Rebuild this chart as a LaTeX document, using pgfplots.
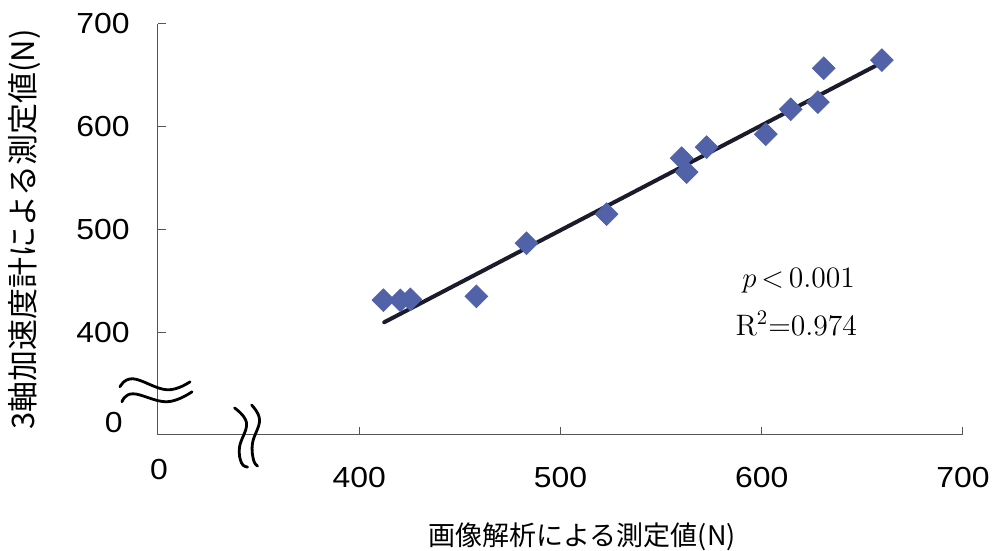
\documentclass[border=0pt]{standalone}
\usepackage{fontspec}
\usepackage{pgfplots}
\pgfplotsset{compat=1.18}

\newfontfamily\jpfont{Noto Sans CJK JP}
\newfontfamily\numfont[FakeStretch=1.1]{Liberation Sans}
\newcommand{\ticks}{\numfont\fontsize{14.5}{17}\selectfont}
\newcommand{\xlabs}{\jpfont\fontsize{13.5}{16}\selectfont}
\newcommand{\ylabs}{\jpfont\fontsize{15.5}{18}\selectfont}

\definecolor{markblue}{HTML}{5262A8}
\definecolor{fitline}{HTML}{1B1B2C}
\definecolor{axisgray}{HTML}{555555}

\begin{document}
\begin{tikzpicture}
\begin{axis}[
  scale only axis,
  width=402.5pt, height=205.5pt,
  xmin=300, xmax=700, ymin=300, ymax=700,
  axis x line*=bottom, axis y line*=left,
  axis line style={draw=axisgray, line width=0.5pt},
  xtick={400,500,600,700}, ytick={400,500,600,700},
  tick align=inside, major tick length=4pt,
  tick style={draw=axisgray, line width=0.5pt},
  /pgf/number format/assume math mode=true,
  xticklabel style={font=\ticks, anchor=north, inner sep=0pt, yshift=-16pt},
  yticklabel style={font=\ticks, anchor=east, inner sep=0pt, xshift=-14pt},
  clip=false,
]
% measured pairs: image analysis (x) vs. tri-axial accelerometer (y)
\addplot[only marks, mark=square*, mark size=4pt,
  mark options={rotate=45, fill=markblue, draw=markblue}] table {
x     y
412.0 431.2
420.4 431.0
425.4 432.0
458.2 435.0
483.1 486.7
522.9 514.9
560.2 569.4
562.7 555.8
572.6 580.1
602.0 592.8
614.4 617.1
627.9 624.0
630.8 657.0
659.7 664.8
};
% regression line
\addplot[line width=2pt, color=fitline, line cap=round] coordinates {(412.4,409.7) (659.2,662.0)};

\node[anchor=base east, inner sep=0pt, font=\fontsize{14.8}{17}\selectfont] at (axis cs:646.5,444) {$p$\,<\,0.001};
\node[anchor=base east, inner sep=0pt, font=\fontsize{14.8}{17}\selectfont] at (axis cs:647.5,397.3) {R\textsuperscript{2}=0.974};

% zero labels at the broken origin
\node[anchor=east, inner sep=0pt, xshift=-17.5pt, yshift=6pt, font=\ticks] at (rel axis cs:0,0) {0};
\node[anchor=north, inner sep=0pt, yshift=-12pt, xshift=0.5pt, font=\ticks] at (rel axis cs:0,0) {0};

% axis titles
\node[anchor=center, font=\xlabs, yshift=-51pt] at (rel axis cs:0.527,0) {画像解析による測定値(N)};
\node[anchor=center, rotate=90, font=\ylabs] at ([xshift=-66.5pt]rel axis cs:0,0.5) {3軸加速度計による測定値(N)};

\coordinate (yb) at (axis cs:300,344);
\coordinate (xb) at (axis cs:344,300);
\coordinate (sw) at (rel axis cs:0,0);
\end{axis}

% axis break symbols
\begin{scope}[shift={(yb)}, line width=1.4pt, line cap=round]
  \draw plot[smooth, tension=0.7] coordinates {(-19pt,1.5pt) (-12.5pt,5.5pt) (4.5pt,0pt) (16pt,4pt)};
  \draw plot[smooth, tension=0.7] coordinates {(-18pt,-6pt) (-12.5pt,-2pt) (4.5pt,-6pt) (17pt,-1pt)};
\end{scope}
\begin{scope}[shift={(xb)}, line width=1.4pt, line cap=round]
  \draw plot[smooth, tension=0.7] coordinates {(-6pt,13.5pt) (0pt,6pt) (-3.5pt,-6pt) (-2.5pt,-14pt) (0.5pt,-16pt)};
  \draw plot[smooth, tension=0.7] coordinates {(2.5pt,15pt) (6.5pt,7.5pt) (3pt,-4pt) (3.5pt,-12.5pt) (5.5pt,-15.5pt)};
\end{scope}

\pgfresetboundingbox
\path[use as bounding box] (sw) ++(-79pt,-58pt) rectangle ++(496pt,275.5pt);
\end{tikzpicture}
\end{document}
